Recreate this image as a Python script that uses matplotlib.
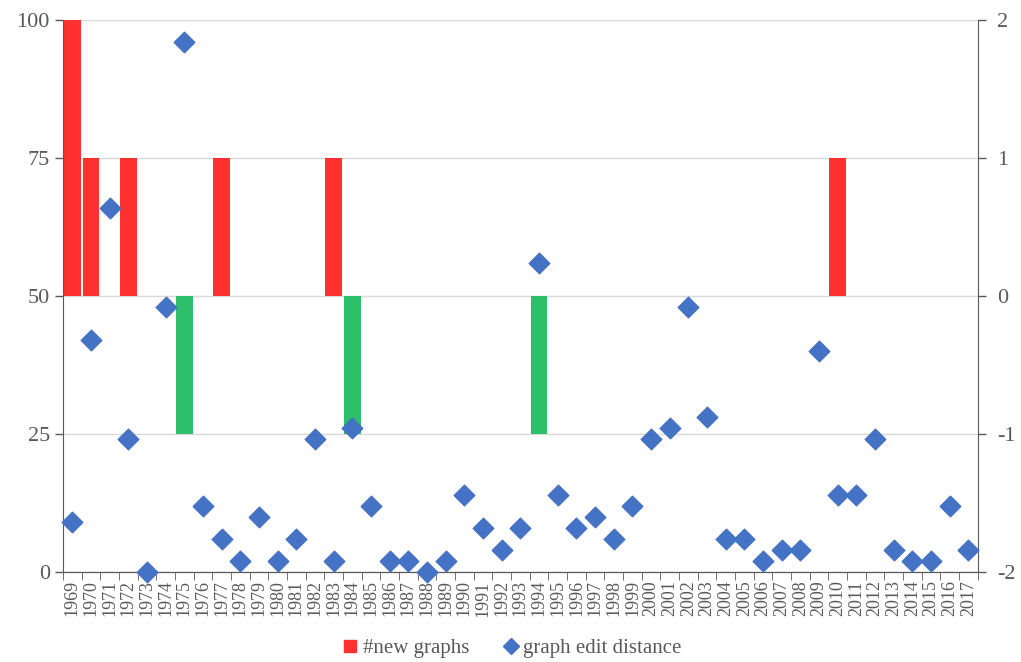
import numpy as np
import matplotlib
matplotlib.use("Agg")
import matplotlib.pyplot as plt
from matplotlib.lines import Line2D

plt.rcParams['font.family'] = ['Liberation Serif', 'DejaVu Serif']
plt.rcParams['axes.unicode_minus'] = False

# data
years = list(range(1969, 2018))
new_graphs = [2, 1, 0, 1, 0, 0, -1, 0, 1, 0,
              0, 0, 0, 0, 1, -1, 0, 0, 0, 0,
              0, 0, 0, 0, 0, -1, 0, 0, 0, 0,
              0, 0, 0, 0, 0, 0, 0, 0, 0, 0,
              0, 1, 0, 0, 0, 0, 0, 0, 0]
edit_distance = [9, 42, 66, 24, 0, 48, 96, 12, 6, 2,
                 10, 2, 6, 24, 2, 26, 12, 2, 2, 0,
                 2, 14, 8, 4, 8, 56, 14, 8, 10, 6,
                 12, 24, 26, 48, 28, 6, 6, 2, 4, 4,
                 40, 14, 14, 24, 4, 2, 2, 12, 4]

red = "#FF3030"
green = "#2EBF6A"
blue = "#4472C4"
text_col = "#595959"
axis_col = "#595959"

fig = plt.figure(figsize=(10.21, 6.62), dpi=100)
ax = fig.add_axes([0.0617, 0.136, 0.896, 0.834])
ax2 = ax.twinx()

x = np.arange(len(years))

# bars on the right axis (red up, green down)
bar_colors = [red if v >= 0 else green for v in new_graphs]
ax2.bar(x, new_graphs, width=0.9, color=bar_colors, zorder=2)
ax2.set_ylim(-2, 2)
ax2.set_yticks([-2, -1, 0, 1, 2])
ax2.grid(axis='y', color="#D9D9D9", linewidth=1, zorder=0)
ax2.set_axisbelow(True)

# diamonds on the left axis, drawn on top
ax.set_zorder(ax2.get_zorder() + 1)
ax.patch.set_visible(False)
ax.scatter(x, edit_distance, marker='D', s=110, color=blue, zorder=3,
           clip_on=False)
ax.set_ylim(0, 100)
ax.set_yticks([0, 25, 50, 75, 100])
ax.set_xlim(-0.5, len(years) - 0.5)

ax.set_xticks(x)
ax.set_xticklabels([str(y) for y in years], rotation=90, fontsize=13,
                   color=text_col)
ax.set_xticks(np.arange(-0.5, len(years)), minor=True)
ax.tick_params(axis='x', which='major', length=0, pad=6)
ax.tick_params(axis='x', which='minor', length=6, color=axis_col,
               direction='out')
ax.tick_params(axis='y', labelsize=16, labelcolor=text_col, color=axis_col,
               length=6, width=1)
ax2.tick_params(axis='y', labelsize=16, labelcolor=text_col, color=axis_col,
                length=6, width=1, pad=8)
ax2.tick_params(axis='x', length=0)

for a in (ax, ax2):
    a.spines['top'].set_visible(False)
    a.spines['left'].set_color(axis_col)
    a.spines['right'].set_color(axis_col)
    a.spines['bottom'].set_color(axis_col)
ax.spines['right'].set_visible(False)
ax2.spines['left'].set_visible(False)

handles = [
    Line2D([0], [0], marker='s', color='none', markerfacecolor=red,
           markeredgecolor=red, markersize=9, label="#new graphs"),
    Line2D([0], [0], marker='D', color='none', markerfacecolor=blue,
           markeredgecolor=blue, markersize=8, label="graph edit distance"),
]
fig.legend(handles=handles, loc='center', bbox_to_anchor=(0.5, 0.021),
           ncol=2, frameon=False, fontsize=15, labelcolor=text_col,
           handletextpad=0.1, columnspacing=1.5, handlelength=1.0)

fig.savefig("out.png", dpi=100)
